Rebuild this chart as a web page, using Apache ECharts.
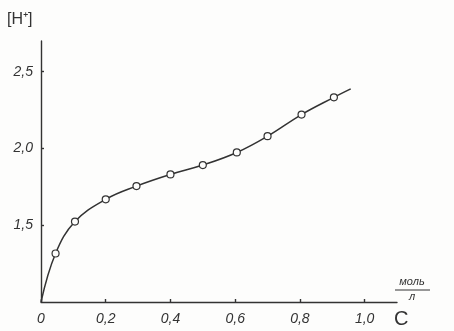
<!DOCTYPE html>
<html>
<head>
<meta charset="utf-8">
<script src="https://cdn.jsdelivr.net/npm/echarts@6/dist/echarts.min.js"></script>
<style>
html,body{margin:0;padding:0;background:#fdfdfc;}
#c{width:454px;height:331px;}
</style>
</head>
<body>
<div id="c"></div>
<script>
// measured points (open circles)
var pointX = [0.045, 0.105, 0.2, 0.295, 0.4, 0.5, 0.605, 0.7, 0.805, 0.905];
var pointY = [1.316, 1.524, 1.669, 1.755, 1.831, 1.892, 1.974, 2.080, 2.221, 2.333];
// drawn curve (through origin, points, and beyond last point)
var curveX = [0, 0.045, 0.105, 0.2, 0.295, 0.4, 0.5, 0.605, 0.7, 0.805, 0.905, 0.957];
var curveY = [1.0, 1.316, 1.524, 1.669, 1.755, 1.831, 1.892, 1.974, 2.080, 2.221, 2.333, 2.388];
var xTicks = [0, 0.2, 0.4, 0.6, 0.8, 1.0];
var xTickLabels = ['0', '0,2', '0,4', '0,6', '0,8', '1,0'];
var yTicks = [1.5, 2.0, 2.5];
var yTickLabels = ['1,5', '2,0', '2,5'];

var ink = '#333333';
var font = 'Liberation Sans';

var chart = echarts.init(document.getElementById('c'), null, {renderer: 'canvas'});
chart.setOption({
  backgroundColor: '#fdfdfc',
  animation: false,
  grid: {left: 41, right: 57, top: 41, bottom: 29, containLabel: false},
  xAxis: {
    type: 'value', min: 0, max: 1.1,
    axisLine: {show: true, onZero: false, lineStyle: {color: ink, width: 1.4}},
    axisTick: {show: true, inside: true, length: 3, customValues: xTicks, lineStyle: {color: ink, width: 1.4}},
    axisLabel: {
      customValues: xTicks, margin: 10, color: ink, fontFamily: font, fontStyle: 'italic', fontSize: 14,
      formatter: function (v) { var i = xTicks.indexOf(Math.round(v * 10) / 10); return i >= 0 ? xTickLabels[i] : ''; }
    },
    splitLine: {show: false}
  },
  yAxis: {
    type: 'value', min: 1.0, max: 2.7,
    axisLine: {show: true, onZero: false, lineStyle: {color: ink, width: 1.4}},
    axisTick: {show: true, inside: true, length: 3, customValues: yTicks, lineStyle: {color: ink, width: 1.4}},
    axisLabel: {
      customValues: yTicks, margin: 8, color: ink, fontFamily: font, fontStyle: 'italic', fontSize: 14,
      formatter: function (v) { var i = yTicks.indexOf(Math.round(v * 10) / 10); return i >= 0 ? yTickLabels[i] : ''; }
    },
    splitLine: {show: false}
  },
  series: [
    {
      type: 'line', smooth: 0.4, symbol: 'none',
      data: curveX.map(function (x, i) { return [x, curveY[i]]; }),
      lineStyle: {color: ink, width: 1.5}, z: 2
    },
    {
      type: 'scatter', symbol: 'circle', symbolSize: 7,
      data: pointX.map(function (x, i) { return [x, pointY[i]]; }),
      itemStyle: {color: '#fdfdfc', borderColor: ink, borderWidth: 1.2, opacity: 1}, z: 3
    }
  ],
  graphic: [
    {type: 'text', left: 7, top: 12, style: {text: '[H⁺]', fill: ink, font: '16px "Liberation Sans"'}},
    {type: 'text', left: 394, top: 309, style: {text: 'C', fill: ink, font: '20px "Liberation Sans"'}},
    {type: 'text', x: 412, y: 282, style: {text: 'моль', fill: ink, font: 'italic 11px "Liberation Sans"', textAlign: 'center', textVerticalAlign: 'middle'}},
    {type: 'line', shape: {x1: 395, y1: 290, x2: 430, y2: 290}, style: {stroke: ink, lineWidth: 1.2}},
    {type: 'text', x: 412, y: 297, style: {text: 'л', fill: ink, font: 'italic 11px "Liberation Sans"', textAlign: 'center', textVerticalAlign: 'middle'}}
  ]
});
</script>
</body>
</html>
